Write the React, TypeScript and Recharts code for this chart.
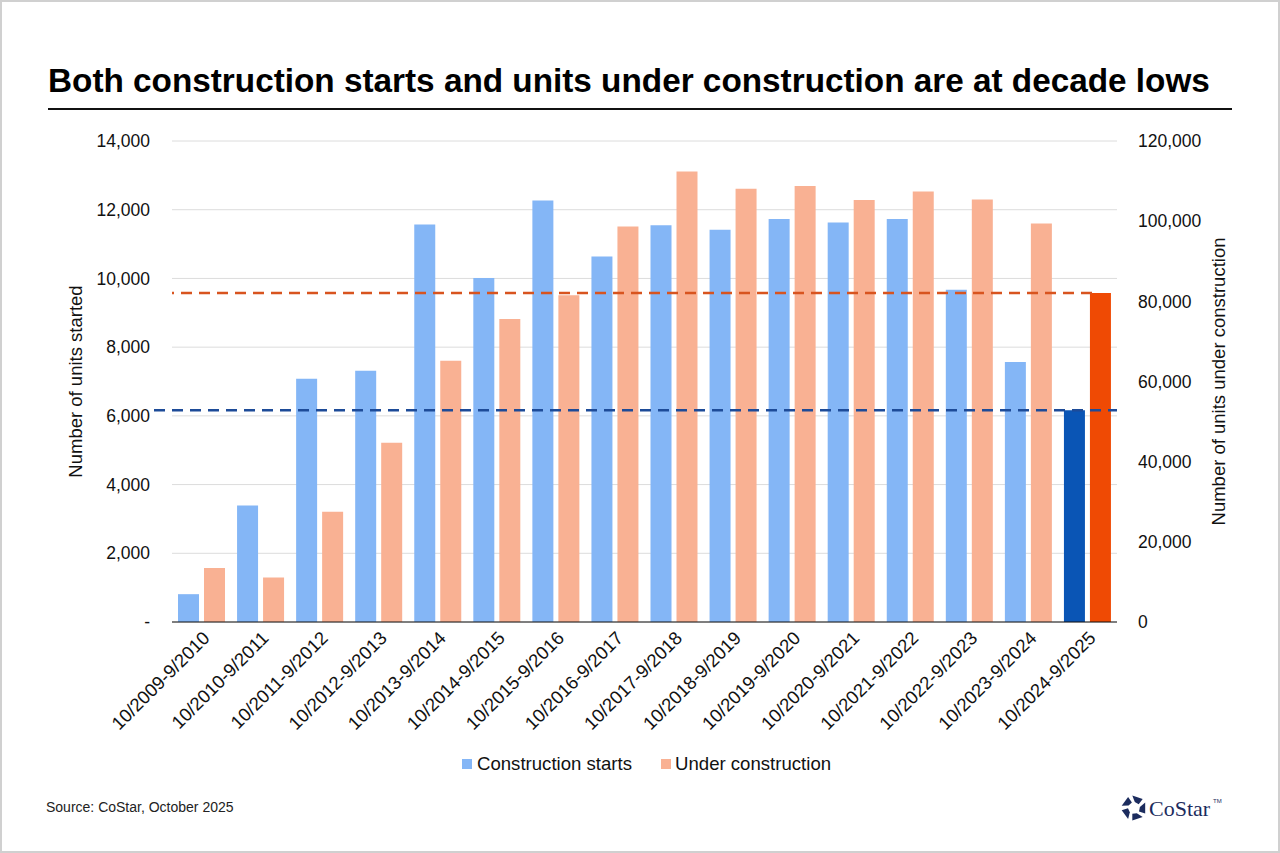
import React from "react"
import { Bar, BarChart, CartesianGrid, Cell, ReferenceLine, XAxis, YAxis } from "recharts"

const categories = [
    "10/2009-9/2010",
    "10/2010-9/2011",
    "10/2011-9/2012",
    "10/2012-9/2013",
    "10/2013-9/2014",
    "10/2014-9/2015",
    "10/2015-9/2016",
    "10/2016-9/2017",
    "10/2017-9/2018",
    "10/2018-9/2019",
    "10/2019-9/2020",
    "10/2020-9/2021",
    "10/2021-9/2022",
    "10/2022-9/2023",
    "10/2023-9/2024",
    "10/2024-9/2025",
]

const starts = [810, 3390, 7080, 7310, 11570, 10010, 12270, 10640, 11550, 11420, 11730, 11630, 11730, 9670, 7570, 6160]

const underConstruction = [
    13500, 11100, 27500, 44700, 65200, 75600, 81500, 98700, 112400, 108100, 108800, 105300, 107400, 105400, 99400, 82100,
]

const leftTicks = [0, 2000, 4000, 6000, 8000, 10000, 12000, 14000]
const rightTicks = [0, 20000, 40000, 60000, 80000, 100000, 120000]

const data = categories.map((name, i) => ({
    name,
    starts: starts[i],
    underConstruction: underConstruction[i],
}))

const lastIndex = categories.length - 1
const latestStarts = starts[lastIndex]
const latestUnder = underConstruction[lastIndex]

const BLUE = "#84b6f6"
const ORANGE = "#f9b193"
const BLUE_DARK = "#0a55b5"
const ORANGE_DARK = "#ef4a04"

const font = "'Liberation Sans', Arial, sans-serif"

// dashed guide lines run a little past the left edge of the plot
const dashed = (color: string, extend: number) => (props: any) => (
    <line
        x1={props.x1 - extend}
        y1={props.y1}
        x2={props.x2}
        y2={props.y2}
        stroke={color}
        strokeWidth={2.5}
        strokeDasharray="11 7"
    />
)

function Logo() {
    const cx = 1132
    const cy = 806
    const blocks = [0, 1, 2, 3, 4].map((k) => {
        const a = (k * 72 - 90) * (Math.PI / 180)
        const pt = (r: number, d: number) => {
            const t = a + (d * Math.PI) / 180
            return `${(cx + r * Math.cos(t)).toFixed(1)},${(cy + r * Math.sin(t)).toFixed(1)}`
        }
        return [pt(12.5, -8), pt(12.5, 44), pt(6, 52), pt(6, 8)].join(" ")
    })
    return (
        <svg width={1280} height={853} style={{ position: "absolute", left: 0, top: 0, pointerEvents: "none" }}>
            {blocks.map((p, i) => (
                <polygon key={i} points={p} fill="#1c2c5e" />
            ))}
            <text x={1147} y={814} fontFamily="'Liberation Serif', 'DejaVu Serif', serif" fontSize={22} fill="#1c2c5e">
                CoStar
            </text>
            <text x={1211} y={801} fontFamily={font} fontSize={6} fill="#1c2c5e">
                TM
            </text>
        </svg>
    )
}

const tickStyle = { fontSize: 17.5, fill: "#111" }
const labelStyle = { textAnchor: "middle" as const, fontSize: 18.5, fill: "#111" }

export default function App() {
    return (
        <div
            style={{
                position: "absolute",
                left: 0,
                top: 0,
                width: 1280,
                height: 853,
                boxSizing: "border-box",
                border: "2px solid #d0d0d0",
                background: "#fff",
                fontFamily: font,
                overflow: "hidden",
            }}
        >
            <div
                style={{
                    position: "absolute",
                    left: 46,
                    top: 60,
                    fontSize: 33.3,
                    fontWeight: 700,
                    color: "#000",
                    whiteSpace: "nowrap",
                }}
            >
                Both construction starts and units under construction are at decade lows
            </div>
            <div style={{ position: "absolute", left: 46, top: 106, width: 1184, height: 2, background: "#111" }} />

            <div style={{ position: "absolute", left: -2, top: -2 }}>
                <BarChart
                    width={1280}
                    height={780}
                    data={data}
                    margin={{ top: 141, right: 40, left: 60, bottom: 0 }}
                    barCategoryGap="10%"
                    barGap={5}
                >
                    <CartesianGrid yAxisId="left" vertical={false} stroke="#dcdcdc" />
                    <XAxis
                        dataKey="name"
                        interval={0}
                        angle={-45}
                        textAnchor="end"
                        height={158}
                        tickLine={false}
                        axisLine={{ stroke: "#111" }}
                        tick={{ fontSize: 18.5, fill: "#111" }}
                    />
                    <YAxis
                        yAxisId="left"
                        width={112}
                        domain={[0, 14000]}
                        ticks={leftTicks}
                        tickLine={false}
                        axisLine={false}
                        tickMargin={16}
                        tick={tickStyle}
                        tickFormatter={(v: number) => (v === 0 ? "-" : v.toLocaleString("en-US"))}
                        label={{
                            value: "Number of units started",
                            angle: -90,
                            position: "insideLeft",
                            offset: 15,
                            style: labelStyle,
                        }}
                    />
                    <YAxis
                        yAxisId="right"
                        orientation="right"
                        width={123}
                        domain={[0, 120000]}
                        ticks={rightTicks}
                        tickLine={false}
                        axisLine={false}
                        tickMargin={15}
                        tick={tickStyle}
                        tickFormatter={(v: number) => v.toLocaleString("en-US")}
                        label={{
                            value: "Number of units under construction",
                            angle: -90,
                            position: "insideRight",
                            offset: 22,
                            style: labelStyle,
                        }}
                    />
                    <Bar yAxisId="left" dataKey="starts" name="Construction starts" fill={BLUE} barSize={21} isAnimationActive={false}>
                        {data.map((_, i) => (
                            <Cell key={i} fill={i === lastIndex ? BLUE_DARK : BLUE} />
                        ))}
                    </Bar>
                    <Bar
                        yAxisId="right"
                        dataKey="underConstruction"
                        name="Under construction"
                        fill={ORANGE}
                        barSize={21}
                        isAnimationActive={false}
                    >
                        {data.map((_, i) => (
                            <Cell key={i} fill={i === lastIndex ? ORANGE_DARK : ORANGE} />
                        ))}
                    </Bar>
                    <ReferenceLine yAxisId="right" y={latestUnder} shape={dashed("#d8541f", 25)} />
                    <ReferenceLine yAxisId="left" y={latestStarts} shape={dashed("#1d4b98", 18)} />
                </BarChart>
            </div>

            <div
                style={{
                    position: "absolute",
                    left: 460,
                    top: 751,
                    display: "flex",
                    alignItems: "center",
                    fontSize: 18.6,
                    color: "#111",
                    whiteSpace: "nowrap",
                }}
            >
                <span style={{ width: 10, height: 10, background: BLUE, marginRight: 5 }} />
                <span>Construction starts</span>
                <span style={{ width: 10, height: 10, background: ORANGE, marginLeft: 29, marginRight: 4 }} />
                <span>Under construction</span>
            </div>

            <div style={{ position: "absolute", left: 44, top: 797, fontSize: 14, color: "#222", whiteSpace: "nowrap" }}>
                Source: CoStar, October 2025
            </div>

            <Logo />
        </div>
    )
}
